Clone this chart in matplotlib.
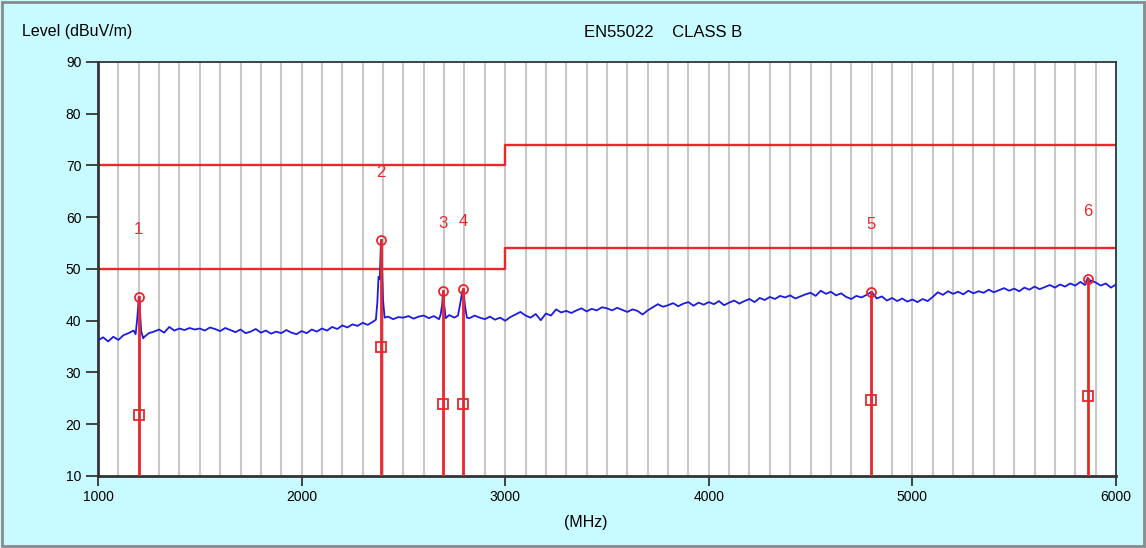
import numpy as np
import matplotlib
matplotlib.use("Agg")
import matplotlib.pyplot as plt
from matplotlib.patches import Rectangle

plt.rcParams['font.family'] = ['Liberation Sans', 'DejaVu Sans']

# measured trace, 25 MHz steps from 1000 to 6000
base_start = 1000
base_step = 25
base_level = [
    36.2, 36.8, 36.0, 36.9, 36.3, 37.2, 37.6, 38.1, 37.0, 36.8, 37.6, 37.9, 38.3, 37.7, 38.8, 38.1, 38.5, 38.2, 38.6, 38.3,
    38.5, 38.1, 38.7, 38.4, 38.0, 38.6, 38.2, 37.8, 38.3, 37.6, 37.9, 38.4, 37.7, 38.1, 37.5, 37.9, 37.6, 38.2, 37.7, 37.4,
    38.0, 37.6, 38.3, 37.9, 38.5, 38.1, 38.8, 38.4, 39.1, 38.7, 39.3, 39.0, 39.6, 39.2, 39.8, 40.0, 41.0, 40.8, 40.3, 40.7,
    40.6, 40.9, 40.4, 40.8, 41.0, 40.5, 40.9, 40.3, 40.7, 41.1, 40.6, 40.4, 40.8, 40.5, 41.0, 40.6, 40.3, 40.8, 40.2, 40.6,
    40.0, 40.7, 41.2, 41.7, 41.0, 40.6, 41.3, 40.1, 41.4, 41.0, 42.2, 41.6, 41.9, 41.5, 42.0, 42.4, 41.8, 42.3, 42.0, 42.6,
    42.4, 42.0, 42.5, 42.1, 41.7, 42.2, 41.9, 41.2, 42.0, 42.6, 43.2, 42.7, 43.0, 43.4, 42.8, 43.3, 43.6, 42.9, 43.5, 43.1,
    43.6, 43.2, 43.8, 43.0, 43.5, 43.9, 43.3, 43.8, 44.2, 43.6, 44.4, 44.0, 44.6, 44.2, 44.8, 44.5, 44.9, 44.3, 44.7, 45.1,
    45.4, 44.8, 45.8, 45.2, 45.6, 44.9, 45.3, 44.6, 44.2, 44.8, 44.5, 45.0, 45.6, 44.3, 44.7, 43.9, 44.4, 43.8, 44.3, 43.7,
    44.1, 43.6, 44.2, 43.8, 44.6, 45.5, 45.0, 45.7, 45.2, 45.6, 45.1, 45.8, 45.3, 45.7, 45.4, 46.0, 45.5, 45.9, 46.3, 45.8,
    46.2, 45.7, 46.4, 46.0, 46.6, 46.1, 46.5, 46.9, 46.4, 47.0, 46.6, 47.2, 46.8, 47.5, 47.0, 47.8, 47.4, 46.8, 47.2, 46.4,
    47.0,
]

# narrow emissions laid over the trace
spike_freq = [1185, 1193, 1198, 1200, 1204, 1212, 1222,
              2365, 2372, 2378, 2384, 2388, 2390, 2393, 2397, 2400, 2408,
              2683, 2690, 2695, 2700, 2708,
              2768, 2780, 2790, 2795, 2802, 2812,
              5848, 5856, 5862, 5870]
spike_level = [37.4, 40.5, 43.0, 44.6, 43.5, 38.0, 36.6,
               40.2, 43.5, 48.5, 48.0, 53.5, 55.6, 52.0, 48.0, 44.0, 40.6,
               41.2, 43.0, 45.7, 43.2, 40.5,
               41.0, 43.5, 45.8, 46.1, 43.0, 40.6,
               46.9, 47.8, 48.3, 47.4]

# final measurement markers
mk_num = ['1', '2', '3', '4', '5', '6']
mk_freq = [1200, 2390, 2695, 2795, 4795, 5862]
mk_peak = [44.6, 55.6, 45.7, 46.1, 45.6, 48.1]
mk_avg = [21.8, 34.9, 23.9, 23.9, 24.7, 25.5]

# EN55022 class B limits (peak / average)
lim_freq = [1000, 3000, 3000, 6000]
lim_peak = [70, 70, 74, 74]
lim_avg = [50, 50, 54, 54]

red = '#e8282c'
blue = '#1c1ce0'

base_freq = base_start + base_step * np.arange(len(base_level))
base_level = np.array(base_level)
keep = np.ones(len(base_freq), bool)
for lo, hi in [(1185, 1222), (2365, 2408), (2683, 2708), (2768, 2812), (5848, 5870)]:
    keep &= ~((base_freq >= lo) & (base_freq <= hi))
f = np.concatenate([base_freq[keep], spike_freq])
v = np.concatenate([base_level[keep], spike_level])
order = np.argsort(f)

fig = plt.figure(figsize=(11.46, 5.48), dpi=100)
fig.patch.set_facecolor('#c8fbff')
fig.patches.append(Rectangle((0.002, 0.004), 0.996, 0.992, transform=fig.transFigure,
                             fill=False, edgecolor='#8a8a8a', linewidth=2))

ax = fig.add_axes([0.0855, 0.1314, 0.8883, 0.7555])
ax.set_facecolor('white')
ax.set_xlim(1000, 6000)
ax.set_ylim(10, 90)

for gx in range(1100, 6000, 100):
    ax.axvline(gx, color='#c8c8c8', linewidth=1.5, zorder=0)

ax.plot(lim_freq, lim_peak, color=red, linewidth=1.7, zorder=2)
ax.plot(lim_freq, lim_avg, color=red, linewidth=1.7, zorder=2)

ax.plot(f[order], v[order], color=blue, linewidth=1.3, zorder=3)

for n, x, pk, av in zip(mk_num, mk_freq, mk_peak, mk_avg):
    ax.plot([x, x], [10, pk], color=red, linewidth=2.0, zorder=4)
    ax.plot(x, pk, 'o', mfc='none', mec=red, ms=6.5, mew=1.3, zorder=5)
    ax.plot(x, av, 's', mfc='none', mec=red, ms=6.5, mew=1.3, zorder=5)
    ax.text(x, pk + 13, n, color=red, fontsize=12, ha='center', va='center')

ax.set_xticks(range(1000, 6001, 1000))
ax.set_yticks(range(10, 91, 10))
ax.tick_params(axis='both', direction='out', length=7, width=1.3, color='#333333',
               labelsize=10, pad=3)
ax.tick_params(axis='y', length=9)
for s in ax.spines.values():
    s.set_color('#333333')
    s.set_linewidth(1.3)
ax.spines['left'].set_linewidth(2)
ax.spines['bottom'].set_linewidth(2)

fig.text(0.019, 0.943, 'Level (dBuV/m)', fontsize=11.5, ha='left', va='center')
fig.text(0.579, 0.940, 'EN55022    CLASS B', fontsize=12, ha='center', va='center')
fig.text(0.511, 0.047, '(MHz)', fontsize=11.5, ha='center', va='center')

fig.savefig('out.png', dpi=100, facecolor=fig.get_facecolor())
